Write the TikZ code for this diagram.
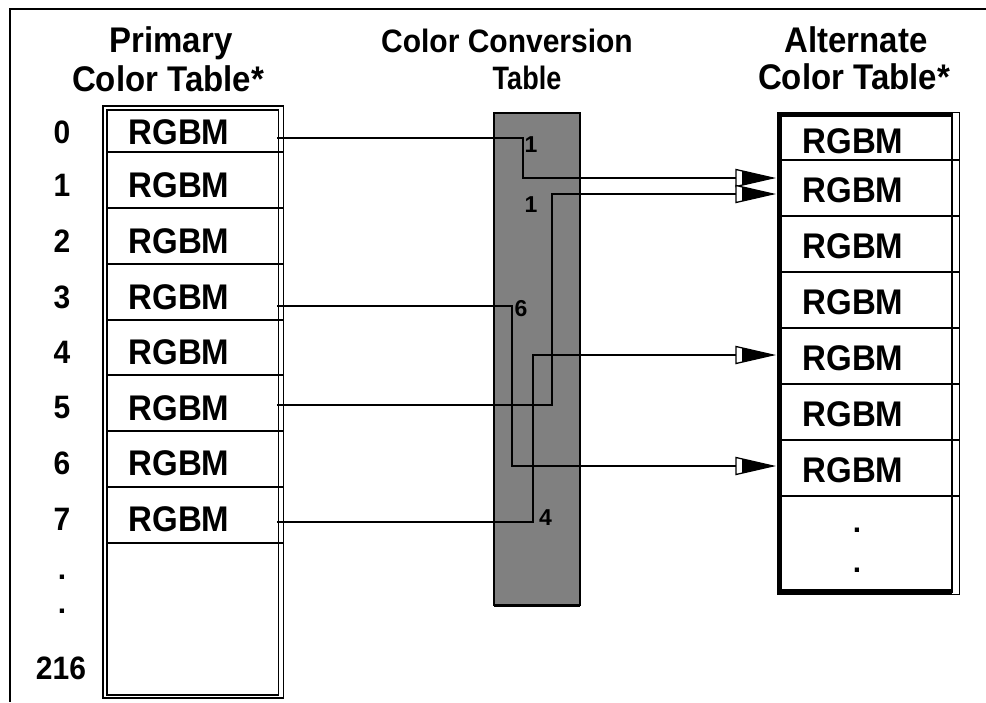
\documentclass[tikz,border=0pt]{standalone}
\usepackage{graphicx}
\usepackage{fontspec}
\setmainfont{Liberation Sans}
\newcommand\vtall[1]{\scalebox{1}[1.08]{#1}}
\newcommand\vtallc[1]{\scalebox{0.9}[1.08]{#1}}
\begin{document}
\begin{tikzpicture}[x=1pt,y=-1pt,
  hd/.style={font=\fontsize{33}{38}\selectfont\bfseries, anchor=base, inner sep=0},
  hdc/.style={font=\fontsize{30}{36}\selectfont\bfseries, anchor=base, inner sep=0},
  cell/.style={font=\fontsize{33}{38}\selectfont\bfseries, inner sep=0},
  num/.style={font=\fontsize{30}{36}\selectfont\bfseries, inner sep=0},
  idx/.style={font=\fontsize{23}{26}\selectfont\bfseries, inner sep=0},
  conn/.style={line width=2pt},
  ahead/.pic={
    \filldraw[fill=white,draw=black,line width=1.3pt] (-37,-8.5) -- (0,0) -- (-37,8.5) -- cycle;
    \fill[black] (-30,-6.9) -- (0,0) -- (-30,6.9) -- cycle;
    \draw[line width=1.3pt] (-30,-6.9) -- (-30,6.9);
  },
  rowline/.style={line width=1.3pt}
]
\useasboundingbox (0,0) rectangle (986,702);
% frame
\draw[line width=2pt] (986,8.5) -- (10,8.5) -- (10,702);

% headings
\node[hd] (h1a) at (171,52) {\vtall{Primary}};
\node[hd] (h1b) at (168,91) {\vtall{Color Table*}};
\node[hdc] (h2a) at (507,52) {\vtall{Color Conversion}};
\node[hdc] (h2b) at (527,89) {\vtallc{Table}};
\node[hd] (h3a) at (856,52) {\vtall{Alternate}};
\node[hd] (h3b) at (854,89) {\vtall{Color Table*}};

% primary table
\draw[line width=1.5pt] (103,106) rectangle (283.5,698);
\draw[line width=1.2pt] (107,110) -- (107,695) -- (278.5,695) -- (278.5,110) -- cycle;
\foreach \y in {152,208,264,320,375,431,487,543}
  \draw[rowline] (107,\y) -- (283.5,\y);
\foreach \t/\y in {0/132,1/185,2/241,3/297,4/352,5/408,6/463,7/519}{
  \node[cell] (p\t) at (179,\y) {\vtall{RGBM}};
  \node[num] (n\t) at (62,\y) {\vtall{\t}};
}
\node[num] (nd1) at (62,577) {.};
\node[num] (nd2) at (62,611) {.};
\node[num] (n216) at (61,668) {\vtall{216}};

% conversion table
\draw[line width=1.5pt, fill={rgb,255:red,128;green,128;blue,128}] (494,113) rectangle (580,605);
\draw[line width=3pt] (494,605) -- (580,605);
\node[coordinate] (conv) at (537,360) {};

% alternate table
\draw[line width=1pt] (777,112) rectangle (959,594);
\draw[line width=4.5pt] (952,114.5) -- (779.5,114.5) -- (779.5,591.5) -- (952,591.5);
\draw[line width=1.6pt] (952,113) -- (952,593);
\foreach \y in {160,216,272,328,384,440,496}
  \draw[rowline] (782,\y) -- (959,\y);
\foreach \y [count=\i from 0] in {141,190,246,302,358,414,470}
  \node[cell] (a\i) at (853,\y) {\vtall{RGBM}};
\node[num] (ad1) at (857,530) {.};
\node[num] (ad2) at (857,570) {.};

% connector points
\coordinate (s0) at (277,138);
\coordinate (s3) at (277,306);
\coordinate (s5) at (277,405);
\coordinate (s7) at (277,522);
\coordinate (k0) at (523,178);
\coordinate (k5) at (552,194);
\coordinate (k3) at (512,466);
\coordinate (k7) at (533,355);
\coordinate (t0) at (773,178);
\coordinate (t5) at (773,194);
\coordinate (t3) at (773,466);
\coordinate (t7) at (773,355);

\draw[conn] (s0) -| (k0) -- (t0);
\draw[conn] (s5) -| (k5) -- (t5);
\draw[conn] (s3) -| (k3) -- (t3);
\draw[conn] (s7) -| (k7) -- (t7);
\pic at (t0) {ahead};
\pic at (t5) {ahead};
\pic at (t3) {ahead};
\pic at (t7) {ahead};

% index labels
\node[idx] (i0) at (531,144.5) {1};
\node[idx] (i5) at (531,205) {1};
\node[idx] (i3) at (521,309) {6};
\node[idx] (i7) at (545.5,518) {4};
\end{tikzpicture}
\end{document}
